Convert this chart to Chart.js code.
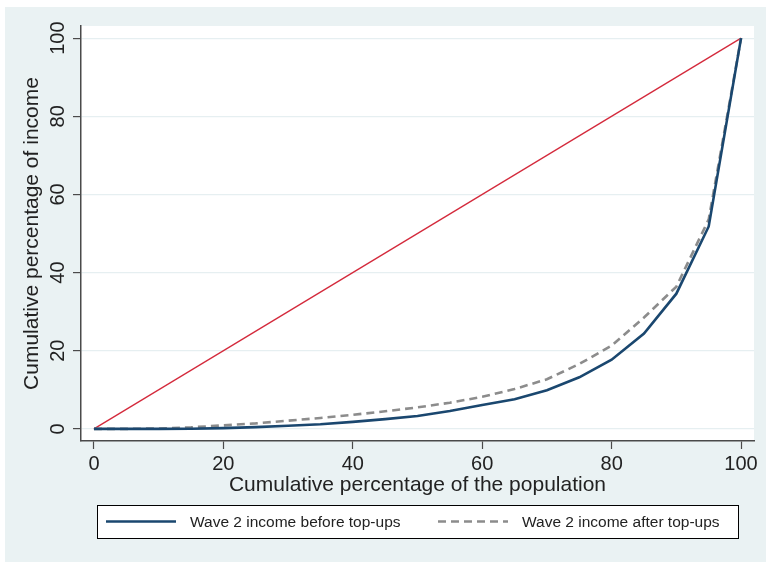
<!DOCTYPE html>
<html>
<head>
<meta charset="utf-8">
<script src="https://cdn.jsdelivr.net/npm/chart.js@4"></script>
<style>
html,body{margin:0;padding:0;background:#fff;}
#wrap{width:766px;height:562px;position:relative;}
</style>
</head>
<body>
<div id="wrap"><canvas id="c" width="766" height="562"></canvas></div>
<script>
// Data
const population = [0,5,10,15,20,25,30,35,40,45,50,55,60,65,70,75,80,85,90,95,100];
const incomeBefore = [0,0,0,0.05,0.2,0.45,0.8,1.2,1.8,2.5,3.3,4.6,6.1,7.6,9.9,13.2,17.7,24.4,34.6,51.8,100];
const incomeAfter = [0,0,0.1,0.4,0.9,1.4,2.1,2.8,3.6,4.5,5.5,6.7,8.2,10.2,12.7,16.6,21.3,28.5,36.4,53.6,100];
const equalityX = [0,100];
const equalityY = [0,100];
const xTicks = [0,20,40,60,80,100];
const yTicks = [0,20,40,60,80,100];
const seriesLabels = ['Wave 2 income before top-ups','Wave 2 income after top-ups'];
const xTitle = 'Cumulative percentage of the population';
const yTitle = 'Cumulative percentage of income';

const FONT = '"Liberation Sans", Arial, Helvetica, sans-serif';
const TEXT = '#222';
const AXIS = '#4a4a4a';

const bgPlugin = {
  id: 'bg',
  beforeDraw(chart) {
    const ctx = chart.ctx;
    const a = chart.chartArea;
    ctx.save();
    ctx.fillStyle = '#ffffff';
    ctx.fillRect(0, 0, chart.width, chart.height);
    ctx.fillStyle = '#eaf2f3';
    ctx.fillRect(5, 7, chart.width - 5, chart.height - 7);
    ctx.fillStyle = '#ffffff';
    ctx.fillRect(a.left, a.top, a.right - a.left, a.bottom - a.top);
    ctx.restore();
  }
};

const legendPlugin = {
  id: 'boxLegend',
  afterDraw(chart) {
    const ctx = chart.ctx;
    const ds = chart.data.datasets;
    ctx.save();
    const bx = 97, by = 505, bw = 641, bh = 33;
    ctx.fillStyle = '#ffffff';
    ctx.fillRect(bx, by, bw, bh);
    ctx.strokeStyle = '#000';
    ctx.lineWidth = 1;
    ctx.strokeRect(bx + 0.5, by + 0.5, bw, bh);
    const cy = by + bh / 2;
    const items = [
      {d: ds[0], x0: 106, x1: 176, tx: 190},
      {d: ds[1], x0: 438, x1: 508, tx: 522}
    ];
    items.forEach(it => {
      ctx.beginPath();
      ctx.strokeStyle = it.d.borderColor;
      ctx.lineWidth = it.d.borderWidth;
      ctx.setLineDash(it.d.borderDash || []);
      ctx.moveTo(it.x0, cy);
      ctx.lineTo(it.x1, cy);
      ctx.stroke();
      ctx.setLineDash([]);
      ctx.fillStyle = TEXT;
      ctx.font = '15.5px ' + FONT;
      ctx.textBaseline = 'middle';
      ctx.textAlign = 'left';
      ctx.fillText(it.d.label, it.tx, cy + 1);
    });
    ctx.restore();
  }
};

const toXY = (xs, ys) => xs.map((x, i) => ({x: x, y: ys[i]}));

new Chart(document.getElementById('c'), {
  type: 'line',
  data: {
    datasets: [
      {
        label: seriesLabels[0],
        data: toXY(population, incomeBefore),
        borderColor: '#1a476f',
        borderWidth: 2.6,
        pointRadius: 0,
        tension: 0,
        fill: false
      },
      {
        label: seriesLabels[1],
        data: toXY(population, incomeAfter),
        borderColor: '#8c8c8c',
        borderWidth: 2.6,
        borderDash: [8, 5],
        pointRadius: 0,
        tension: 0,
        fill: false
      },
      {
        label: 'Equality',
        data: toXY(equalityX, equalityY),
        borderColor: '#d42a3c',
        borderWidth: 1.3,
        pointRadius: 0,
        tension: 0,
        fill: false
      }
    ]
  },
  options: {
    responsive: false,
    animation: false,
    events: [],
    layout: { padding: { left: 0, right: 12, top: 26, bottom: 0 } },
    plugins: {
      legend: { display: false },
      tooltip: { enabled: false }
    },
    scales: {
      x: {
        type: 'linear',
        min: -2,
        max: 102,
        afterBuildTicks: s => { s.ticks = xTicks.map(v => ({value: v})); },
        afterFit: s => { s.height = 121; },
        ticks: { color: TEXT, font: { family: FONT, size: 20 }, padding: 3, maxRotation: 0 },
        grid: { drawOnChartArea: false, drawTicks: true, tickLength: 8, tickColor: AXIS, tickWidth: 1.2 },
        border: { display: true, color: AXIS, width: 1.5 },
        title: { display: true, text: xTitle, color: TEXT, font: { family: FONT, size: 21 }, padding: { top: 0, bottom: 64 } }
      },
      y: {
        type: 'linear',
        min: -3.1,
        max: 103.1,
        afterBuildTicks: s => { s.ticks = yTicks.map(v => ({value: v})); },
        afterFit: s => { s.width = 81; },
        ticks: { color: TEXT, font: { family: FONT, size: 20 }, padding: -2, minRotation: 90, maxRotation: 90, crossAlign: 'center' },
        grid: { color: '#e6eff1', lineWidth: 1.2, drawTicks: true, tickLength: 8, tickColor: AXIS, tickWidth: 1.2 },
        border: { display: true, color: AXIS, width: 1.5 },
        title: { display: true, text: yTitle, color: TEXT, font: { family: FONT, size: 21 }, padding: { top: 20, bottom: 0 } }
      }
    }
  },
  plugins: [bgPlugin, legendPlugin]
});
</script>
</body>
</html>
